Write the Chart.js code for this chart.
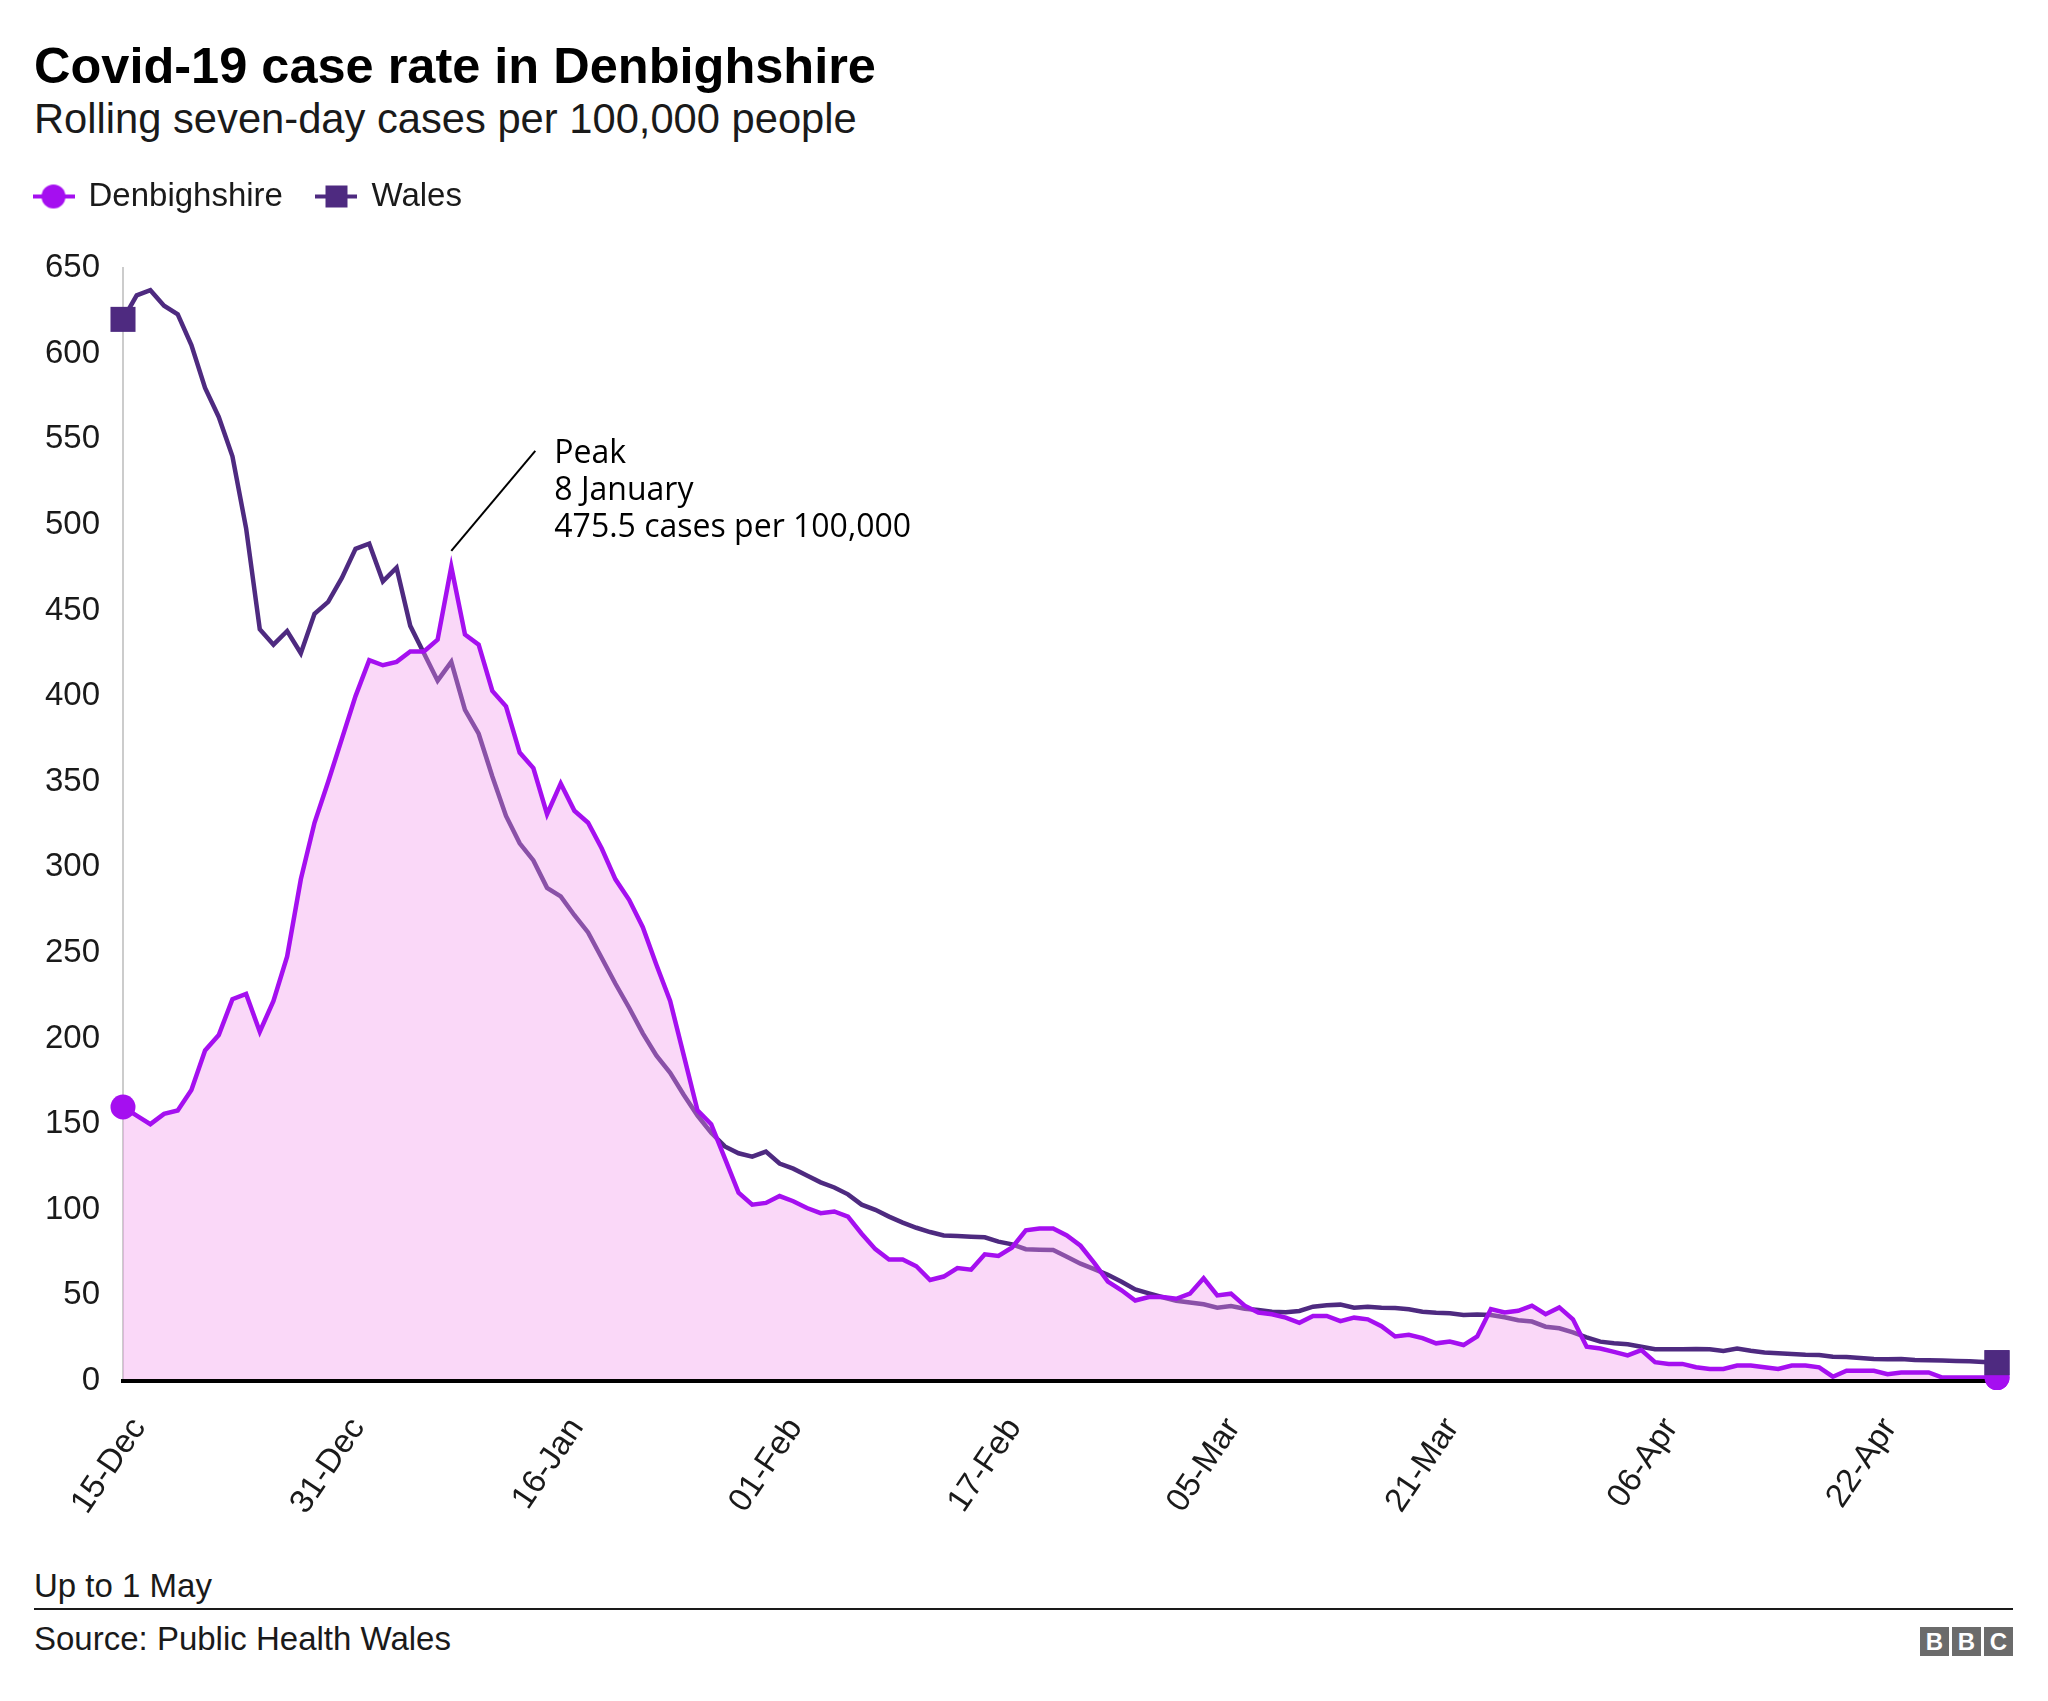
<!DOCTYPE html>
<html>
<head>
<meta charset="utf-8">
<script src="https://cdn.jsdelivr.net/npm/chart.js@4.4.1/dist/chart.umd.min.js"></script>
<style>
html,body{margin:0;padding:0;background:#fff;}
body{width:2048px;height:1701px;position:relative;overflow:hidden;font-family:"Liberation Sans",Arial,sans-serif;color:#1a1a1a;}
.t{position:absolute;left:34px;white-space:nowrap;line-height:1;}
#title{top:41px;font-size:50.5px;font-weight:bold;color:#000;}
#subtitle{top:98px;font-size:41.7px;}
#note{top:1569px;font-size:33px;}
#source{top:1622px;font-size:33px;}
#rule{position:absolute;left:34px;top:1608px;width:1979px;height:2px;background:#1a1a1a;}
#bbc{position:absolute;left:1920px;top:1627px;display:flex;gap:3px;}
#bbc span{width:29px;height:29px;background:#6b6b6b;color:#fff;font:bold 24px "Liberation Sans",Arial,sans-serif;display:flex;align-items:center;justify-content:center;}
#wrap{position:absolute;left:0;top:145px;width:2048px;height:1386px;}
</style>
</head>
<body>
<div class="t" id="title">Covid-19 case rate in Denbighshire</div>
<div class="t" id="subtitle">Rolling seven-day cases per 100,000 people</div>
<div id="wrap"><canvas id="c" width="2048" height="1386"></canvas></div>
<div class="t" id="note">Up to 1 May</div>
<div id="rule"></div>
<div class="t" id="source">Source: Public Health Wales</div>
<div id="bbc"><span>B</span><span>B</span><span>C</span></div>
<script>
// ---- Data ----
const categories = [
  "15-Dec","16-Dec","17-Dec","18-Dec","19-Dec","20-Dec","21-Dec","22-Dec","23-Dec","24-Dec","25-Dec","26-Dec","27-Dec","28-Dec","29-Dec","30-Dec","31-Dec",
  "01-Jan","02-Jan","03-Jan","04-Jan","05-Jan","06-Jan","07-Jan","08-Jan","09-Jan","10-Jan","11-Jan","12-Jan","13-Jan","14-Jan","15-Jan","16-Jan","17-Jan","18-Jan","19-Jan","20-Jan","21-Jan","22-Jan","23-Jan","24-Jan","25-Jan","26-Jan","27-Jan","28-Jan","29-Jan","30-Jan","31-Jan",
  "01-Feb","02-Feb","03-Feb","04-Feb","05-Feb","06-Feb","07-Feb","08-Feb","09-Feb","10-Feb","11-Feb","12-Feb","13-Feb","14-Feb","15-Feb","16-Feb","17-Feb","18-Feb","19-Feb","20-Feb","21-Feb","22-Feb","23-Feb","24-Feb","25-Feb","26-Feb","27-Feb","28-Feb",
  "01-Mar","02-Mar","03-Mar","04-Mar","05-Mar","06-Mar","07-Mar","08-Mar","09-Mar","10-Mar","11-Mar","12-Mar","13-Mar","14-Mar","15-Mar","16-Mar","17-Mar","18-Mar","19-Mar","20-Mar","21-Mar","22-Mar","23-Mar","24-Mar","25-Mar","26-Mar","27-Mar","28-Mar","29-Mar","30-Mar","31-Mar",
  "01-Apr","02-Apr","03-Apr","04-Apr","05-Apr","06-Apr","07-Apr","08-Apr","09-Apr","10-Apr","11-Apr","12-Apr","13-Apr","14-Apr","15-Apr","16-Apr","17-Apr","18-Apr","19-Apr","20-Apr","21-Apr","22-Apr","23-Apr","24-Apr","25-Apr","26-Apr","27-Apr","28-Apr","29-Apr","30-Apr",
  "01-May"
];

const tickLabels = ["15-Dec","31-Dec","16-Jan","01-Feb","17-Feb","05-Mar","21-Mar","06-Apr","22-Apr"];

const denbighshire = [
  160,155,150,156,158,170,193,202,223,226,
  204,222,248,293,326,350,375,400,421,418,
  420,426,426,433,475.5,436,430,403,394,367,
  358,331,349,333,326,311,293,281,265,243,
  222,190,158,150,130,110,103,104,108,105,
  101,98,99,96,86,77,71,71,67,59,
  61,66,65,74,73,78,88,89,89,85,
  79,69,58,53,47,49,49,48,51,60,
  50,51,44,40,39,37,34,38,38,35,
  37,36,32,26,27,25,22,23,21,26,
  42,40,41,44,39,43,36,20,19,17,
  15,18,11,10,10,8,7,7,9,9,
  8,7,9,9,8,2.5,6,6,6,4,
  5,5,5,2,2,2,2,2
];

const wales = [
  620,634,637,628,623,605,580,563,540,498,
  439,430,438,425,448,455,469,486,489,467,
  475,441,425,409,420,392,378,353,330,314,
  304,288,283,272,262,247,232,218,203,190,
  180,167,155,145,137,133,131,134,127,124,
  120,116,113,109,103,100,96,92.5,89.5,87,
  85,84.7,84.3,83.9,81.4,79.8,77,76.7,76.5,72.6,
  68.5,65.3,62,58,53.5,51.2,48.9,46.9,45.9,44.8,
  42.8,43.8,42.2,41.5,40.5,40.1,40.9,43.4,44.2,44.6,
  42.8,43.4,42.8,42.6,41.9,40.5,39.9,39.5,38.5,38.9,
  38.5,37.2,35.5,34.7,31.7,30.8,28.4,25.5,23,22,
  21.4,20,18.5,18.5,18.5,18.7,18.5,17.5,18.9,17.7,
  16.7,16.2,15.8,15.4,15.2,14.2,14,13.4,12.8,12.7,
  12.8,12.3,12.1,11.9,11.7,11.5,11.1,10.7
];

const peakNote = ["Peak", "8 January", "475.5 cases per 100,000"];

// ---- Styles ----
const DENB_COLOR = '#a50ff0';
const WALES_COLOR = '#4e2a80';
const FILL_COLOR = 'rgba(242,150,236,0.37)';
const TEXT_COLOR = '#1a1a1a';

Chart.defaults.font.family = '"Liberation Sans", Arial, sans-serif';
Chart.defaults.color = TEXT_COLOR;

function legendIcon(kind, color) {
  const c = document.createElement('canvas');
  c.width = 42; c.height = 26;
  const g = c.getContext('2d');
  g.strokeStyle = color; g.lineWidth = 4;
  g.beginPath(); g.moveTo(0, 13); g.lineTo(42, 13); g.stroke();
  g.fillStyle = color;
  if (kind === 'circle') { g.beginPath(); g.arc(21, 13, 12, 0, Math.PI * 2); g.fill(); }
  else { g.fillRect(10, 2, 22, 22); }
  return c;
}
const icons = [legendIcon('circle', DENB_COLOR), legendIcon('rect', WALES_COLOR)];

const endRadius = (r) => (ctx) => (ctx.dataIndex === 0 || ctx.dataIndex === categories.length - 1) ? r : 0;

const legendHeightPlugin = {
  id: 'legendHeight',
  beforeInit(chart) {
    const orig = chart.legend.fit;
    chart.legend.fit = function () { orig.call(this); this.height = 123; };
  }
};

const peakPlugin = {
  id: 'peakNote',
  afterDatasetsDraw(chart) {
    const xs = chart.scales.x, ys = chart.scales.y, ctx = chart.ctx;
    const peak = Math.max(...denbighshire);
    const i = denbighshire.indexOf(peak);
    const x = xs.getPixelForValue(i), y = ys.getPixelForValue(peak);
    ctx.save();
    ctx.strokeStyle = '#000'; ctx.lineWidth = 2;
    ctx.beginPath(); ctx.moveTo(x, y - 16); ctx.lineTo(x + 84, y - 116); ctx.stroke();
    ctx.font = '32px "Open Sans", "Noto Sans", sans-serif';
    ctx.fillStyle = '#000'; ctx.textAlign = 'left'; ctx.textBaseline = 'alphabetic';
    peakNote.forEach((t, k) => ctx.fillText(t, x + 103, y - 104 + k * 37));
    ctx.restore();
  }
};

// redraw the end markers above the baseline (circle first, then square)
const endMarkersOnTop = {
  id: 'endMarkersOnTop',
  afterDraw(chart) {
    const ctx = chart.ctx;
    [0, 1].forEach((d) => {
      const pts = chart.getDatasetMeta(d).data;
      const last = pts[pts.length - 1];
      if (last) last.draw(ctx);
    });
  }
};

new Chart(document.getElementById('c'), {
  type: 'line',
  data: {
    labels: categories,
    datasets: [
      {
        label: 'Denbighshire',
        data: denbighshire,
        borderColor: DENB_COLOR,
        backgroundColor: FILL_COLOR,
        borderWidth: 4.5,
        fill: 'origin',
        tension: 0,
        pointStyle: 'circle',
        pointRadius: endRadius(12.5),
        pointHoverRadius: endRadius(12.5),
        pointBackgroundColor: DENB_COLOR,
        pointBorderWidth: 0,
        clip: false
      },
      {
        label: 'Wales',
        data: wales,
        borderColor: WALES_COLOR,
        backgroundColor: WALES_COLOR,
        borderWidth: 4.5,
        fill: false,
        tension: 0,
        pointStyle: 'rect',
        pointRadius: endRadius(17.7),
        pointHoverRadius: endRadius(17.7),
        pointBackgroundColor: WALES_COLOR,
        pointBorderWidth: 0,
        clip: false
      }
    ]
  },
  options: {
    responsive: false,
    animation: false,
    devicePixelRatio: 1,
    layout: { padding: { left: 0, right: 51, top: 0, bottom: 0 } },
    plugins: {
      title: { display: false },
      tooltip: { enabled: false },
      legend: {
        display: true,
        position: 'top',
        align: 'start',
        labels: {
          usePointStyle: true,
          pointStyleWidth: 37,
          padding: 35,
          color: TEXT_COLOR,
          font: { size: 33 },
          generateLabels(chart) {
            const items = Chart.defaults.plugins.legend.labels.generateLabels(chart);
            items.forEach((it, k) => { it.pointStyle = icons[k]; });
            return items;
          }
        }
      }
    },
    scales: {
      x: {
        type: 'category',
        grid: { display: false, drawTicks: false },
        border: { display: true, color: '#000', width: 4, z: 1 },
        afterFit(s) { s.height = 150; s.paddingRight = 0; s.paddingLeft = 0; },
        ticks: {
          autoSkip: false,
          maxRotation: 56,
          minRotation: 56,
          padding: 30,
          labelOffset: 16,
          color: TEXT_COLOR,
          font: { size: 33 },
          callback(val, idx) {
            const c = categories[idx];
            return tickLabels.includes(c) ? c : '';
          }
        }
      },
      y: {
        min: 0,
        max: 650,
        grid: { display: false, drawTicks: false },
        border: { display: true, color: '#cccccc', width: 2 },
        afterFit(s) { s.width = 123; },
        ticks: {
          stepSize: 50,
          padding: 23,
          color: TEXT_COLOR,
          font: { size: 33 }
        }
      }
    }
  },
  plugins: [legendHeightPlugin, peakPlugin, endMarkersOnTop]
});
</script>
</body>
</html>
